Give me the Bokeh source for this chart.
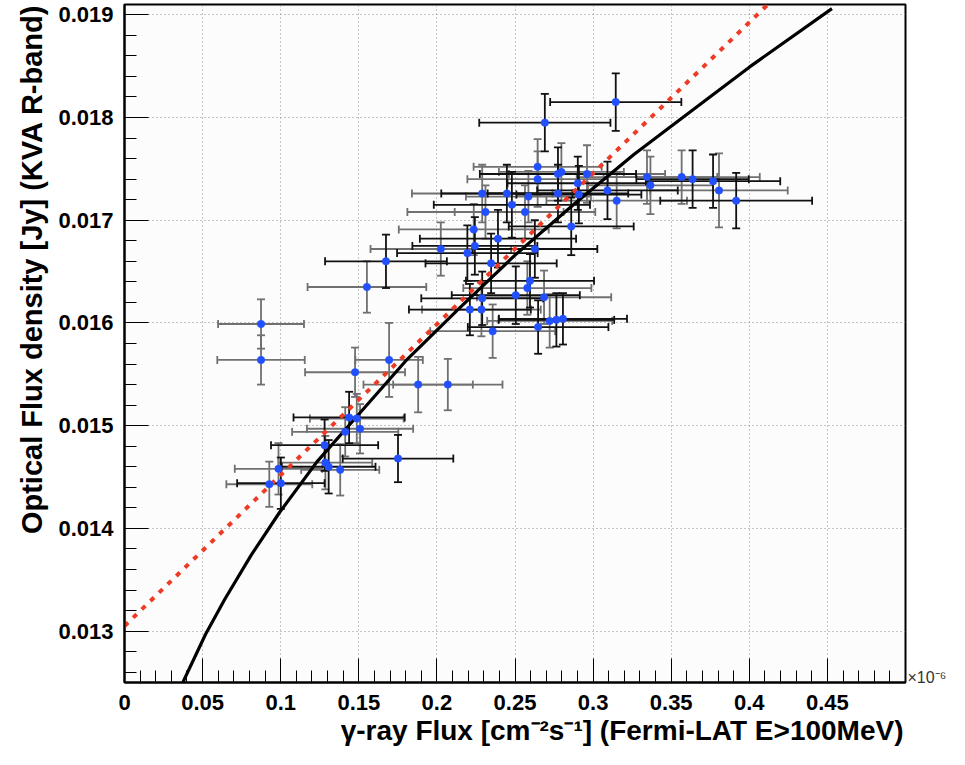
import numpy as np
from bokeh.plotting import figure
from bokeh.models import (ColumnDataSource, Whisker, TeeHead, FixedTicker, Range1d, Title,
                          LinearAxis)
from bokeh.embed import file_html
from bokeh.resources import INLINE

# ---- data (gamma-ray flux in 1e-6 cm^-2 s^-1, optical flux density in Jy) ----
# points whose error bars are drawn dark
dark_x = [0.1674, 0.1438, 0.1281, 0.1307, 0.1751, 0.1001, 0.3145, 0.2691, 0.2775, 0.2902,
          0.2909, 0.2775, 0.3092, 0.2860, 0.2448, 0.2480, 0.2391, 0.2243, 0.2195, 0.2627,
          0.3637, 0.3768, 0.3916, 0.2347, 0.2596, 0.2290, 0.2505, 0.2211, 0.2648, 0.2765, 0.2807]
dark_y = [0.01660, 0.01508, 0.01481, 0.01460, 0.01468, 0.01444, 0.01815, 0.01795, 0.01745, 0.01736,
          0.01725, 0.01726, 0.01729, 0.01694, 0.01726, 0.01715, 0.01682, 0.01675, 0.01668, 0.01672,
          0.01740, 0.01738, 0.01719, 0.01658, 0.01641, 0.01624, 0.01627, 0.01613, 0.01596, 0.01603, 0.01604]
dark_xerr = [0.039, 0.0356, 0.0343, 0.030, 0.0354, 0.028, 0.042, 0.042, 0.050, 0.045,
             0.040, 0.045, 0.045, 0.040, 0.042, 0.050, 0.050, 0.040, 0.045, 0.040,
             0.036, 0.043, 0.0486, 0.042, 0.041, 0.039, 0.041, 0.039, 0.045, 0.037, 0.041]
dark_yerr = [0.00026, 0.00025, 0.00025, 0.00026, 0.00023, 0.00025, 0.00028, 0.00028, 0.00026, 0.00026,
             0.00028, 0.00028, 0.00028, 0.00028, 0.00028, 0.00032, 0.00028, 0.00028, 0.00027, 0.00028,
             0.00028, 0.00026, 0.00027, 0.00029, 0.00026, 0.00026, 0.00028, 0.00025, 0.00026, 0.00026, 0.00025]

# points whose error bars are drawn light grey
light_x = [0.0874, 0.0874, 0.1552, 0.1694, 0.1476, 0.1880, 0.2070, 0.1487, 0.1508, 0.1413,
           0.1286, 0.1381, 0.0986, 0.0927, 0.2645, 0.2645, 0.2797, 0.2961, 0.3151, 0.2290,
           0.2586, 0.2311, 0.2564, 0.2236, 0.2025, 0.3345, 0.3367, 0.3567, 0.3806, 0.2579,
           0.2686, 0.2285, 0.2357, 0.2722]
light_y = [0.01599, 0.01564, 0.01635, 0.01564, 0.01552, 0.01540, 0.01540, 0.01507, 0.01497, 0.01494,
           0.01464, 0.01457, 0.01458, 0.01443, 0.01752, 0.01740, 0.01747, 0.01745, 0.01719, 0.01726,
           0.01723, 0.01708, 0.01708, 0.01691, 0.01672, 0.01742, 0.01734, 0.01742, 0.01729, 0.01634,
           0.01625, 0.01613, 0.01592, 0.01602]
light_xerr = [0.0275, 0.028, 0.038, 0.0216, 0.032, 0.035, 0.035, 0.030, 0.034, 0.034,
              0.030, 0.025, 0.028, 0.0275, 0.041, 0.045, 0.040, 0.050, 0.045, 0.045,
              0.040, 0.050, 0.045, 0.048, 0.045, 0.045, 0.040, 0.050, 0.044, 0.041,
              0.043, 0.038, 0.040, 0.040]
light_yerr = [0.00024, 0.00024, 0.00025, 0.00036, 0.00024, 0.00027, 0.00025, 0.00024, 0.00024, 0.00024,
              0.00026, 0.00025, 0.00025, 0.00022, 0.00027, 0.00027, 0.00028, 0.00028, 0.00027, 0.00028,
              0.00025, 0.00026, 0.00026, 0.00025, 0.00026, 0.00026, 0.00028, 0.00026, 0.00036, 0.00026,
              0.00026, 0.00026, 0.00026, 0.00026]

# black model curve
curve_x = [0.0367, 0.0519, 0.0642, 0.0811, 0.0990, 0.1233, 0.1487, 0.1800, 0.2141, 0.2500,
           0.2881, 0.3261, 0.3557, 0.4000, 0.4529]
curve_y = [0.01248, 0.01297, 0.01331, 0.01374, 0.01415, 0.01465, 0.01509, 0.01563, 0.01614, 0.01666,
           0.01716, 0.01764, 0.01798, 0.01849, 0.01906]

# red dotted linear trend
trend_x = [0.0, 0.42]
trend_y = [0.01305, 0.01922]

x_ticks = [0.0, 0.05, 0.1, 0.15, 0.2, 0.25, 0.3, 0.35, 0.4, 0.45]
x_tick_labels = ["0", "0.05", "0.1", "0.15", "0.2", "0.25", "0.3", "0.35", "0.4", "0.45"]
y_ticks = [0.013, 0.014, 0.015, 0.016, 0.017, 0.018, 0.019]
y_tick_labels = ["0.013", "0.014", "0.015", "0.016", "0.017", "0.018", "0.019"]

x_title = "\u03b3-ray Flux [cm\u207b\u00b2s\u207b\u00b9] (Fermi-LAT E>100MeV)"
y_title = "Optical Flux density [Jy] (KVA R-band)"
x_scale_note = "\u00d710\u207b\u2076"

# ---- figure ----
X0, X1 = 0.0, 0.5
Y0, Y1 = 0.0125, 0.0191

p = figure(width=949, height=749, x_range=Range1d(X0, X1), y_range=Range1d(Y0, Y1),
           output_backend="svg", toolbar_location=None,
           min_border_left=124, min_border_right=0, min_border_top=4, min_border_bottom=67)
p.background_fill_color = "#fcfcfc"
p.border_fill_color = "white"
p.outline_line_color = "black"
p.outline_line_width = 2

x_minor = [round(v, 3) for v in np.arange(0.0, 0.5, 0.01)]
y_minor = [round(v, 5) for v in np.arange(0.0126, 0.0191, 0.0002)]
p.xaxis.ticker = FixedTicker(ticks=x_ticks, minor_ticks=x_minor)
p.yaxis.ticker = FixedTicker(ticks=y_ticks, minor_ticks=y_minor)
p.xaxis.major_label_overrides = dict(zip(x_ticks, x_tick_labels))
p.yaxis.major_label_overrides = dict(zip(y_ticks, y_tick_labels))

for ax in (p.xaxis, p.yaxis):
    ax.major_tick_in = 24
    ax.major_tick_out = 0
    ax.minor_tick_in = 12
    ax.minor_tick_out = 0
    ax.major_tick_line_color = "black"
    ax.minor_tick_line_color = "black"
    ax.axis_line_color = "black"
    ax.axis_line_width = 2
    ax.major_label_text_font = "Liberation Sans"
    ax.major_label_text_font_style = "bold"
    ax.major_label_text_font_size = "22px"
    ax.major_label_text_color = "black"
p.xaxis.major_label_standoff = 12
p.yaxis.major_label_standoff = 11

for g in (p.xgrid, p.ygrid):
    g.grid_line_color = "#8c8c8c"
    g.grid_line_dash = "1 3"
    g.grid_line_width = 1

# exponent note at the right end of the x axis
note_tick = 0.01255
note_axis = LinearAxis(ticker=FixedTicker(ticks=[note_tick]),
                       major_label_overrides={note_tick: x_scale_note},
                       axis_line_color=None, major_tick_line_color=None,
                       minor_tick_line_color=None, major_tick_in=0, major_tick_out=0,
                       minor_tick_in=0, minor_tick_out=0, major_label_standoff=2,
                       major_label_text_font="Liberation Sans",
                       major_label_text_font_size="16px",
                       major_label_text_color="#333333")
p.add_layout(note_axis, "right")

# error bars
def add_errors(xs, ys, xe, ye, color):
    src = ColumnDataSource(dict(
        x=xs, y=ys,
        xl=[a - b for a, b in zip(xs, xe)], xu=[a + b for a, b in zip(xs, xe)],
        yl=[a - b for a, b in zip(ys, ye)], yu=[a + b for a, b in zip(ys, ye)]))
    wx = Whisker(source=src, base="y", lower="xl", upper="xu", dimension="width",
                 line_color=color, line_width=1.8, level="underlay",
                 upper_head=TeeHead(size=8, line_color=color, line_width=1.8),
                 lower_head=TeeHead(size=8, line_color=color, line_width=1.8))
    wy = Whisker(source=src, base="x", lower="yl", upper="yu", dimension="height",
                 line_color=color, line_width=1.8, level="underlay",
                 upper_head=TeeHead(size=8, line_color=color, line_width=1.8),
                 lower_head=TeeHead(size=8, line_color=color, line_width=1.8))
    p.add_layout(wx)
    p.add_layout(wy)

add_errors(light_x, light_y, light_xerr, light_yerr, "#707070")
add_errors(dark_x, dark_y, dark_xerr, dark_yerr, "#111111")

# model curves
p.line(curve_x, curve_y, line_color="black", line_width=3.2)
p.line(trend_x, trend_y, line_color="#ee3b26", line_width=4, line_dash="5 7")

# data points
p.scatter(dark_x + light_x, dark_y + light_y, size=7.5, fill_color="#2350ff",
          line_color="#2350ff", line_width=0.5)

# axis titles
p.add_layout(Title(text=x_title, align="right", offset=2, standoff=0,
                   text_font="Liberation Sans", text_font_style="bold",
                   text_font_size="28px", text_color="black"), "below")
p.add_layout(Title(text=y_title, align="right", offset=0, standoff=15,
                   text_font="Liberation Sans", text_font_style="bold",
                   text_font_size="29px", text_color="black"), "left")

open("out.html", "w").write(file_html(p, INLINE))
